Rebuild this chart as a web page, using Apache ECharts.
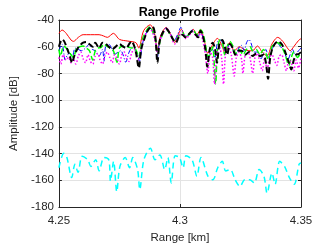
<!DOCTYPE html>
<html><head><meta charset="utf-8">
<script src="https://cdn.jsdelivr.net/npm/echarts@6/dist/echarts.min.js"></script>
<style>html,body{margin:0;padding:0;background:#fff}#c{width:332px;height:249px}</style>
</head><body><div id="c"></div>
<script>
// x positions are offsets in metres from 4.25 km (i.e. thousandths of km)
const xTicks = [4.25, 4.3, 4.35];
const yTicks = [-180, -160, -140, -120, -100, -80, -60, -40];

const redX = [0,1.3,3,5,6,8,10,13,16.6,18.5,20,22.5,25,28.5,31.8,33,35,37.7,39.5,40.6,42,44.3,46.5,47.8,49,50.6,52.3,53.5,55.5,57,58.5,60,61.5,63,65.5,67.5,68.5,70.5,72.5,74.5,76.5,78.5,80,82,84,86,88,90.4,92.5,94,95.5,97,99,100];
const redY = [-50,-47.5,-50,-55,-56,-53,-51,-51,-51,-52,-53,-50,-54.5,-55.8,-57,-61,-48,-43.6,-50,-62,-52,-45.5,-52,-57,-52,-47,-53,-51,-47,-51,-47,-55,-65,-60,-53.8,-60,-64.6,-57,-63,-60,-62,-63,-63,-59.5,-64,-67,-58,-53,-56,-60,-63,-60,-55.3,-54];

const blueX = [0,1.3,2.6,3.5,4.5,5.5,6.7,8,9.3,11,12.6,13.8,15,16.6,18,18.6,19.3,20.5,22,23,24.5,25.6,26.5,27.6,29,30.3,31.5,32.5,33.3,34.5,36,37.6,39,40,40.7,41.5,43,44.3,46,47.5,49,50.4,52,53.3,55,56.5,57.5,58.5,59.5,60.5,61.5,62.5,63.5,64.5,65.6,67,68,69,70.5,72,73,74.6,75.5,76.5,77.5,78.5,79.5,80.5,82,83.5,84.5,85.5,86.5,88,90,91.5,93,94.5,95.5,96.5,97.5,99,100];
const blueY = [-63,-58,-70,-66,-65,-68,-61,-62,-63,-61,-58,-62,-63,-67,-62,-71,-59.5,-58,-62,-65.6,-64,-63,-66,-71.6,-64,-60.7,-62,-66,-71,-58,-50,-46,-49,-56,-68,-57,-49,-46,-50,-56,-51,-45.5,-52,-52,-47.5,-50,-52,-49,-53,-60,-68,-64,-62,-68,-56,-55,-61,-64,-58,-63,-66,-60,-59,-63,-57,-54.6,-58,-64,-64,-69,-65,-62,-68,-62,-57,-60,-63,-70,-66,-62,-66,-63,-61];

const greenX = [0,0.6,2,3,4,5,6,7.3,8.5,10,11.3,12.6,14,15,16,17.3,18.6,20,21.3,22.5,24,25,27,28.5,30,31,32,33,34,35,37.6,39,40,40.7,41.5,43,44.3,46,47.8,49.5,51,52.5,54,55.5,57,58.5,59.5,60.5,61.5,62.5,63.5,64.7,65.5,66.5,67.7,68.5,69.5,70.6,72,73,74.5,76,77.5,79,80,81.5,83,84.5,85.5,86.5,88,90.4,92,93.5,95,96,97,98.5,99.5];
const greenY = [-62,-67,-59.5,-61,-63,-66,-68,-61,-60,-59.5,-61,-63,-70,-63,-61,-60.7,-58,-60,-61,-63,-71.6,-61,-59.5,-60,-61,-61,-63,-68,-58,-52,-45,-50,-56,-66,-58,-50,-47,-51,-56,-52,-49,-53,-50,-48,-51,-47.5,-50,-58,-67,-66,-60,-88,-62,-55,-58,-66,-60,-56,-60,-65,-62,-66,-62,-60,-63,-62,-66,-62,-65,-70,-60,-57,-60,-66,-74,-68,-64,-68,-66];

const magentaX = [0,0.8,1.8,3,4,5,6,7,8,9,10,11,12,13,14,15,16,17,18,19,20,21,22,23,24,25,26,27,28,29,30,31,32,33,34,35.5,37.5,39,40,40.7,41.5,43,44.3,46,47.8,49.5,51,52.5,54,55.5,57,58.5,59.5,60.5,61.5,62.5,63.5,64.3,65.2,66.3,67.3,68,68.8,70,71.2,72.4,73.3,74.5,75.5,76,77,78.3,79.3,80,81,82,83,84,85,86,87,88,89,90,91,92,93,94,95,96,97,98,99,100];
const magentaY = [-68,-73,-66,-70,-68,-72,-69,-73,-67,-64,-69,-72,-66,-71,-73,-67,-65,-70,-73,-67,-64,-68,-72,-66,-69,-73,-66,-64,-69,-71,-65,-62,-66,-70,-60,-52,-46,-51,-58,-66,-57,-50,-47,-51,-58,-52,-49,-54,-51,-49,-53,-50,-56,-66,-80,-64,-68,-88,-66,-60,-70,-88,-66,-60,-66,-82,-68,-64,-70,-80,-66,-65,-72,-80,-68,-65,-72,-78,-68,-78,-68,-66,-70,-74,-67,-66,-72,-78,-70,-72,-78,-70,-76,-68];

const blackX = [0,1.3,2.2,3.3,4.5,5.4,6.5,7.5,8.7,10,11.3,12.5,14,15,16.6,18,19.5,20.6,22,23,25,26.5,27.9,29,30,31,31.8,33,34,35.5,37,38.7,39.8,40.7,41.6,43,44.3,45.8,47,48.3,49.5,51,52.3,53.5,55,56.5,57.5,58.5,59.5,60.5,61.3,62.3,63.5,64.5,65.3,66.3,67.5,68.5,69.5,70.6,71.8,72.8,74,75.5,77,78.5,80,81.5,83,84.5,85.5,86.4,87.3,88.5,90.4,92,93.5,95,96,97,98,99,100];
const blackY = [-60,-54.6,-56,-61,-67,-72,-66,-62,-59,-57,-56.5,-58,-60,-57,-61,-57,-58,-60,-62,-60.7,-58,-60,-61,-58,-56,-59,-64,-76,-62,-53,-47,-45,-52,-72,-56,-49,-46.5,-50,-54,-57,-53,-51,-53,-51,-48.5,-51,-53,-48,-52,-62,-75,-62,-57,-62,-72,-58,-55,-60,-66,-58,-61,-66,-63,-63,-66,-64,-67,-65,-67,-66,-72,-84,-68,-60,-56,-58,-64,-72,-77,-70,-66,-65.5,-64];

const cyanX = [0,2,3.3,5.3,6.6,7.9,9.6,11.9,13.2,15.2,16.6,18.6,20.6,21.3,22.6,23.9,25.2,27.4,29.2,30.5,32.5,33.4,35.1,37.8,39.7,41.7,43.7,45,46.4,48,49.8,51.3,52.5,55,57,58.7,61.6,63.6,65.6,67.5,68.9,70.8,72.8,74.8,76.8,78.8,80.7,82.7,84.7,86,88,89.3,91.2,93.2,95.2,97.2,99.2,100];
const cyanY = [-150.6,-139.8,-143,-158,-148,-154,-142,-144.6,-149.6,-144.6,-153,-143,-144.6,-160.6,-145.8,-168.5,-149.6,-143,-150.6,-143,-152,-167,-144.6,-136,-144.6,-141,-152,-143,-162,-141.6,-143,-150.6,-141.6,-144.6,-157,-143,-157,-159.6,-150.6,-145.8,-153,-152,-159.6,-164.6,-159.6,-159.6,-162,-152,-157,-169.7,-154.6,-163,-145.8,-149.6,-158,-163,-148,-147];

const toKm = (xs, ys) => xs.map((x, k) => [Math.round((4.25 + x / 1000) * 1e6) / 1e6, ys[k]]);

const chart = echarts.init(document.getElementById('c'), null, {renderer: 'canvas'});
const font = 'Liberation Sans, Arial, Helvetica, sans-serif';
const axisCol = '#262626';
const mk = (name, xs, ys, color, width, type, z) => ({
  name, type: 'line', data: toKm(xs, ys), symbol: 'none', smooth: 0.3, z,
  lineStyle: {color, width, type}, animation: false
});
chart.setOption({
  animation: false,
  title: {text: 'Range Profile', left: 174, top: 1, textAlign: 'center',
    textStyle: {fontFamily: font, fontSize: 12.5, fontWeight: 'bold', color: '#000'}},
  grid: {left: 48, right: 31, top: 20, bottom: 37, show: false},
  xAxis: [{
    type: 'value', min: 4.25, max: 4.35, interval: 0.05,
    name: 'Range [km]', nameLocation: 'middle', nameGap: 25,
    nameTextStyle: {fontFamily: font, fontSize: 11.5, color: axisCol},
    axisLine: {show: true, lineStyle: {color: axisCol, width: 1}},
    axisTick: {show: true, inside: true, length: 3, lineStyle: {color: axisCol}},
    axisLabel: {fontFamily: font, fontSize: 11.5, color: axisCol, margin: 8,
      formatter: v => String(Math.round(v * 100) / 100)},
    splitLine: {show: true, lineStyle: {color: '#e3e3e3', width: 1}}
  }, {
    type: 'value', position: 'top', min: 4.25, max: 4.35, interval: 0.05,
    axisLine: {show: true, lineStyle: {color: axisCol, width: 1}},
    axisTick: {show: true, inside: true, length: 3, lineStyle: {color: axisCol}},
    axisLabel: {show: false}, splitLine: {show: false}
  }],
  yAxis: [{
    type: 'value', min: -180, max: -40, interval: 20,
    name: 'Amplitude [dB]', nameLocation: 'middle', nameGap: 33,
    nameTextStyle: {fontFamily: font, fontSize: 11.5, color: axisCol},
    axisLine: {show: true, lineStyle: {color: axisCol, width: 1}},
    axisTick: {show: true, inside: true, length: 3, lineStyle: {color: axisCol}},
    axisLabel: {fontFamily: font, fontSize: 11.5, color: axisCol, margin: 5},
    splitLine: {show: true, lineStyle: {color: '#e3e3e3', width: 1}}
  }, {
    type: 'value', position: 'right', min: -180, max: -40, interval: 20,
    axisLine: {show: true, lineStyle: {color: axisCol, width: 1}},
    axisTick: {show: true, inside: true, length: 3, lineStyle: {color: axisCol}},
    axisLabel: {show: false}, splitLine: {show: false}
  }],
  series: [
    mk('red', redX, redY, '#ff0000', 1, 'solid', 2),
    mk('blue', blueX, blueY, '#0000ff', 1, [5, 2, 1, 2], 3),
    mk('green', greenX, greenY, '#00ff00', 1.5, [6, 3], 4),
    mk('magenta', magentaX, magentaY, '#ff00ff', 1.5, [1.5, 2], 5),
    mk('black', blackX, blackY, '#000000', 2, [6, 3], 6),
    mk('cyan', cyanX, cyanY, '#00ffff', 1.5, [6, 4], 7)
  ]
});
</script></body></html>
